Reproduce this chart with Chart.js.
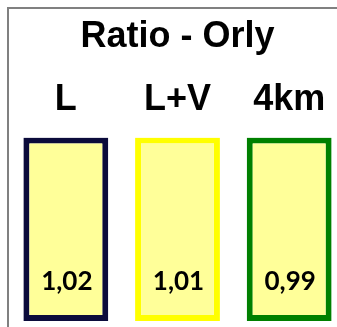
<!DOCTYPE html>
<html>
<head>
<meta charset="utf-8">
<script src="https://cdn.jsdelivr.net/npm/chart.js@4.4.1/dist/chart.umd.min.js"></script>
<style>
  html, body { margin: 0; padding: 0; background: #fff; overflow: hidden; }
  #wrap { position: relative; width: 337px; height: 327px; overflow: hidden; }
  #frame { position: absolute; left: 7px; top: 7px; right: -10px; bottom: -10px;
           border-top: 2px solid #808080; border-left: 2px solid #808080; }
  #box { position: absolute; left: 0; top: 0; width: 345px; height: 327px; }
</style>
</head>
<body>
<div id="wrap">
  <div id="frame"></div>
  <div id="box"><canvas id="c"></canvas></div>
</div>
<script>
// chart data
const categories = ['L', 'L+V', '4km'];
const ratios = [1.02, 1.01, 0.99];
const frameHeights = [1, 1, 1];   // every box is drawn full height
const borderColors = ['#0b0b3b', '#ffff00', '#008000'];

const fmt = v => v.toFixed(2).replace('.', ',');

// writes the ratio at the bottom of each box
const ratioLabels = {
  id: 'ratioLabels',
  afterDatasetsDraw(chart) {
    const ctx = chart.ctx;
    const meta = chart.getDatasetMeta(0);
    ctx.save();
    ctx.font = 'bold 26px Lato';
    ctx.fillStyle = '#000';
    ctx.textAlign = 'center';
    ctx.textBaseline = 'alphabetic';
    meta.data.forEach((bar, i) => {
      ctx.fillText(fmt(ratios[i]), bar.x + 1, bar.base - 31);
    });
    ctx.restore();
  }
};

new Chart(document.getElementById('c'), {
  type: 'bar',
  data: {
    labels: categories,
    datasets: [{
      data: frameHeights,
      backgroundColor: '#ffff99',
      borderColor: borderColors,
      borderWidth: 6,
      borderSkipped: false,
      barPercentage: 0.76,
      categoryPercentage: 1
    }]
  },
  options: {
    responsive: true,
    maintainAspectRatio: false,
    animation: false,
    layout: { padding: { left: 10, right: 0, top: 0, bottom: 6 } },
    plugins: {
      legend: { display: false },
      tooltip: { enabled: false },
      title: {
        display: true,
        text: 'Ratio - Orly',
        color: '#000',
        font: { family: 'Liberation Sans', size: 36, weight: 'bold' },
        padding: { top: 15, bottom: 12 }
      }
    },
    scales: {
      x: {
        position: 'top',
        grid: { display: false },
        border: { display: false },
        ticks: {
          color: '#000',
          font: { family: 'Liberation Sans', size: 36, weight: 'bold' },
          padding: 8
        }
      },
      y: { display: false, min: 0, max: 1 }
    }
  },
  plugins: [ratioLabels]
});
</script>
</body>
</html>
